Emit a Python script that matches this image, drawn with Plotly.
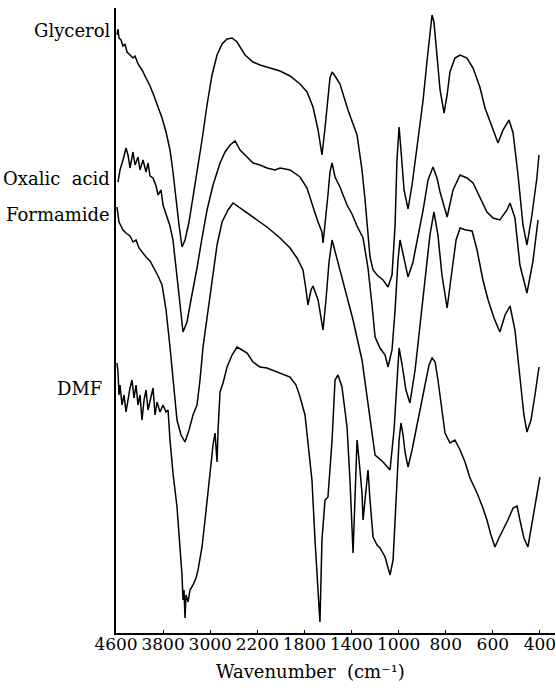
import numpy as np
import plotly.graph_objects as go

# Axis tick labels (wavenumber, cm^-1); the scale is piecewise, one tick per division
tick_wavenumbers = [4600, 3800, 3000, 2200, 1800, 1400, 1000, 800, 600, 400]

# Spectra: wavenumber (cm^-1) and stacked transmittance (arbitrary units)
glycerol_wn = [4583, 4566, 4549, 4515, 4481, 4447, 4413, 4362, 4311, 4277, 4226, 4158, 4090, 4022,
               3954, 3886, 3818, 3750, 3683, 3632, 3581, 3530, 3479, 3428, 3360, 3292, 3224, 3139,
               3054, 2969, 2884, 2799, 2714, 2629, 2544, 2408, 2273, 2177, 2092, 2007, 1922, 1837,
               1778, 1727, 1684, 1651, 1625, 1600, 1583, 1565, 1540, 1498, 1430, 1353, 1311, 1285,
               1260, 1243, 1217, 1175, 1132, 1090, 1056, 1030, 1014, 998, 990, 977, 960, 943, 918,
               896, 879, 867, 858, 850, 837, 824, 807, 794, 782, 761, 739, 710, 684, 655, 633, 612,
               591, 578, 557, 531, 514, 493, 472, 455, 434, 413, 404]
glycerol_t = [119.6, 120.8, 119.0, 118.6, 117.4, 117.8, 116.2, 115.6, 115.0, 115.4, 113.8, 112.6,
              111.0, 109.4, 107.4, 105.4, 103.0, 100.2, 96.6, 92.2, 86.6, 81.6, 77.2, 78.6, 82.2,
              87.0, 92.2, 98.6, 105.6, 111.6, 115.6, 117.8, 118.8, 119.0, 118.2, 115.6, 114.2,
              113.6, 113.0, 112.4, 111.4, 109.8, 108.2, 105.2, 100.6, 95.6, 101.0, 107.6, 111.0,
              112.2, 111.4, 109.8, 104.6, 99.6, 92.6, 86.6, 78.6, 75.2, 72.6, 71.4, 70.6, 69.2,
              71.6, 81.6, 94.6, 101.2, 96.6, 88.6, 84.8, 89.6, 98.6, 106.6, 114.6, 120.6, 123.6,
              122.2, 115.6, 108.6, 104.0, 107.6, 112.2, 115.0, 115.6, 115.0, 113.0, 109.2, 105.0,
              102.2, 99.6, 98.0, 100.6, 102.6, 100.0, 91.6, 81.6, 77.6, 83.6, 91.0, 95.6]

oxalic_wn = [4566, 4532, 4481, 4430, 4396, 4362, 4311, 4277, 4226, 4192, 4141, 4090, 4056, 4022,
             3971, 3920, 3886, 3835, 3801, 3750, 3683, 3632, 3581, 3530, 3462, 3394, 3343, 3292,
             3224, 3139, 3054, 2952, 2833, 2748, 2663, 2578, 2493, 2374, 2273, 2177, 2118, 2050,
             2007, 1922, 1837, 1778, 1736, 1710, 1684, 1651, 1642, 1625, 1600, 1583, 1565, 1540,
             1498, 1472, 1438, 1396, 1353, 1302, 1260, 1226, 1200, 1158, 1115, 1090, 1056, 1030,
             1005, 994, 981, 960, 939, 918, 896, 875, 854, 837, 824, 794, 769, 739, 710, 684, 655,
             625, 599, 570, 540, 527, 506, 485, 455, 430, 408]
oxalic_t = [90.2, 92.6, 94.6, 97.0, 95.6, 93.0, 96.2, 93.6, 95.2, 92.6, 94.6, 92.2, 94.0, 91.4,
            91.0, 89.4, 87.6, 88.6, 85.6, 83.8, 81.4, 78.6, 73.6, 67.6, 60.2, 62.2, 65.6, 68.6,
            73.0, 79.0, 84.6, 89.6, 94.0, 96.2, 97.6, 98.4, 96.6, 95.2, 94.0, 93.6, 93.0, 92.6,
            93.0, 92.6, 91.2, 89.0, 85.6, 84.0, 82.2, 80.2, 78.0, 81.6, 87.6, 92.2, 94.0, 91.2,
            89.2, 87.6, 85.6, 83.8, 81.4, 79.0, 73.0, 65.6, 59.2, 57.0, 55.6, 53.2, 56.6, 64.6,
            74.6, 78.6, 75.6, 71.2, 74.2, 79.2, 84.6, 90.6, 93.2, 91.0, 88.2, 83.2, 88.6, 91.6,
            91.0, 90.0, 87.2, 84.2, 83.0, 82.6, 84.6, 86.0, 83.0, 73.6, 68.0, 74.2, 82.6]

formamide_wn = [4583, 4549, 4515, 4481, 4430, 4362, 4311, 4260, 4209, 4158, 4090, 4022, 3954, 3886,
                3818, 3750, 3683, 3615, 3564, 3496, 3428, 3360, 3292, 3224, 3173, 3122, 3054, 2969,
                2884, 2799, 2697, 2612, 2493, 2374, 2205, 2118, 2007, 1922, 1863, 1812, 1786, 1770,
                1744, 1727, 1684, 1642, 1617, 1591, 1565, 1532, 1472, 1387, 1311, 1243, 1200, 1132,
                1073, 1039, 1014, 998, 985, 969, 952, 930, 909, 888, 867, 850, 833, 816, 794, 773,
                756, 739, 714, 688, 667, 642, 620, 595, 570, 548, 527, 506, 485, 468, 455, 438, 421,
                404]
formamide_t = [85.2, 82.2, 81.4, 80.6, 80.0, 79.4, 78.2, 78.6, 77.0, 76.2, 75.2, 74.4, 73.0, 71.4,
               69.6, 64.6, 57.2, 48.6, 42.6, 39.6, 38.2, 40.6, 43.6, 45.6, 50.6, 57.2, 63.0, 70.6,
               77.6, 82.2, 84.6, 86.0, 85.0, 84.0, 82.6, 81.2, 79.0, 77.0, 75.0, 72.6, 68.6, 65.6,
               68.6, 69.4, 66.6, 60.6, 66.6, 74.2, 78.6, 75.6, 70.6, 62.6, 54.6, 42.6, 35.6, 34.2,
               32.6, 40.6, 50.6, 57.0, 53.6, 48.6, 46.0, 52.6, 61.6, 70.6, 79.6, 84.2, 79.6, 71.6,
               65.0, 72.6, 78.6, 81.0, 80.6, 80.4, 76.6, 70.6, 66.6, 63.0, 60.2, 63.6, 65.4, 60.6,
               50.6, 43.6, 40.2, 42.6, 47.6, 53.2]

dmf_wn = [4583, 4566, 4549, 4532, 4498, 4464, 4430, 4396, 4362, 4328, 4294, 4260, 4226, 4192, 4158,
          4124, 4090, 4056, 4005, 3971, 3937, 3903, 3852, 3801, 3750, 3716, 3683, 3632, 3564, 3513,
          3479, 3462, 3445, 3428, 3411, 3377, 3343, 3292, 3241, 3207, 3139, 3088, 3037, 2986, 2952,
          2918, 2901, 2884, 2867, 2833, 2782, 2714, 2629, 2544, 2459, 2374, 2273, 2177, 2118, 2050,
          2007, 1922, 1871, 1837, 1795, 1770, 1736, 1710, 1693, 1676, 1668, 1651, 1625, 1600, 1565,
          1540, 1515, 1481, 1438, 1413, 1387, 1370, 1353, 1336, 1311, 1302, 1277, 1260, 1243, 1217,
          1183, 1158, 1115, 1073, 1047, 1022, 998, 990, 981, 973, 960, 943, 918, 892, 871, 858, 845,
          833, 816, 803, 782, 761, 739, 718, 697, 667, 642, 625, 608, 591, 574, 561, 536, 514, 497,
          485, 468, 451, 434, 417, 400]
dmf_t = [54.0, 52.2, 47.6, 49.6, 45.6, 47.6, 44.2, 47.0, 49.0, 50.6, 47.0, 49.6, 45.6, 47.6, 42.6,
         46.6, 48.6, 44.6, 47.6, 49.0, 43.6, 46.2, 44.2, 45.6, 44.2, 44.6, 38.6, 32.0, 25.2, 17.2,
         11.6, 6.6, 8.6, 3.0, 7.6, 6.2, 8.6, 9.6, 11.0, 12.6, 17.2, 22.6, 28.6, 33.6, 37.6, 40.0,
         37.6, 34.2, 40.6, 48.2, 50.0, 53.2, 55.6, 57.2, 56.6, 56.0, 54.2, 53.2, 53.0, 52.4, 52.0,
         51.2, 49.6, 47.2, 43.6, 38.6, 30.6, 18.6, 10.6, 5.2, 2.2, 18.6, 26.6, 27.2, 38.6, 50.6,
         51.6, 49.2, 41.2, 30.6, 16.0, 26.6, 38.6, 34.6, 28.0, 22.6, 28.6, 32.6, 26.6, 19.2, 17.6,
         17.0, 15.2, 11.6, 14.6, 26.6, 38.6, 42.0, 39.6, 36.2, 33.2, 36.6, 42.6, 48.6, 53.6, 55.0,
         54.2, 50.6, 44.6, 40.0, 38.0, 38.6, 36.6, 34.2, 31.0, 28.0, 25.0, 22.6, 19.6, 17.2, 19.0,
         20.2, 22.6, 25.0, 25.4, 22.6, 19.0, 17.2, 21.6, 26.6, 31.2]

series = [
    ("Glycerol", glycerol_wn, glycerol_t, 120.6, -4),
    ("Oxalic  acid", oxalic_wn, oxalic_t, 91.0, -4),
    ("Formamide", formamide_wn, formamide_t, 83.8, -4),
    ("DMF", dmf_wn, dmf_t, 49.0, -12),
]

# Piecewise scale: each labelled division gets the same width on the axis
asc_wn = tick_wavenumbers[::-1]
asc_pos = list(range(len(tick_wavenumbers) - 1, -1, -1))


def to_axis(wn):
    return np.interp(np.asarray(wn, dtype=float), asc_wn, asc_pos)


SERIF = "DejaVu Serif"

fig = go.Figure()
for name, wn, t, label_y, shift in series:
    fig.add_trace(go.Scatter(
        x=to_axis(wn), y=t, mode="lines", name=name,
        line=dict(color="black", width=1.5), showlegend=False,
    ))
    fig.add_annotation(
        x=0, xref="paper", y=label_y, yref="y", text=name, showarrow=False,
        xanchor="right", yanchor="middle", xshift=shift,
        font=dict(family=SERIF, size=18, color="black"),
    )

fig.add_annotation(
    x=0.442, xref="paper", y=-0.061, yref="paper", showarrow=False,
    text="Wavenumber  (cm⁻¹)", xanchor="center", yanchor="middle",
    font=dict(family=SERIF, size=18, color="black"),
)

fig.update_layout(
    width=556, height=693,
    margin=dict(l=116, r=1, t=8, b=60),
    plot_bgcolor="white", paper_bgcolor="white",
    xaxis=dict(
        range=[0, 9.32], tickvals=list(range(len(tick_wavenumbers))),
        ticktext=[str(v) for v in tick_wavenumbers],
        showline=True, linecolor="black", linewidth=1.5,
        ticks="inside", ticklen=3, tickwidth=1, tickcolor="black",
        showgrid=False, zeroline=False,
        ticklabeloverflow="allow", ticklabelstandoff=-5,
        tickfont=dict(family=SERIF, size=17, color="black"),
    ),
    yaxis=dict(
        range=[0, 125], showline=True, linecolor="black", linewidth=1.5,
        showticklabels=False, ticks="", showgrid=False, zeroline=False,
    ),
)

fig.write_html("out.html")
